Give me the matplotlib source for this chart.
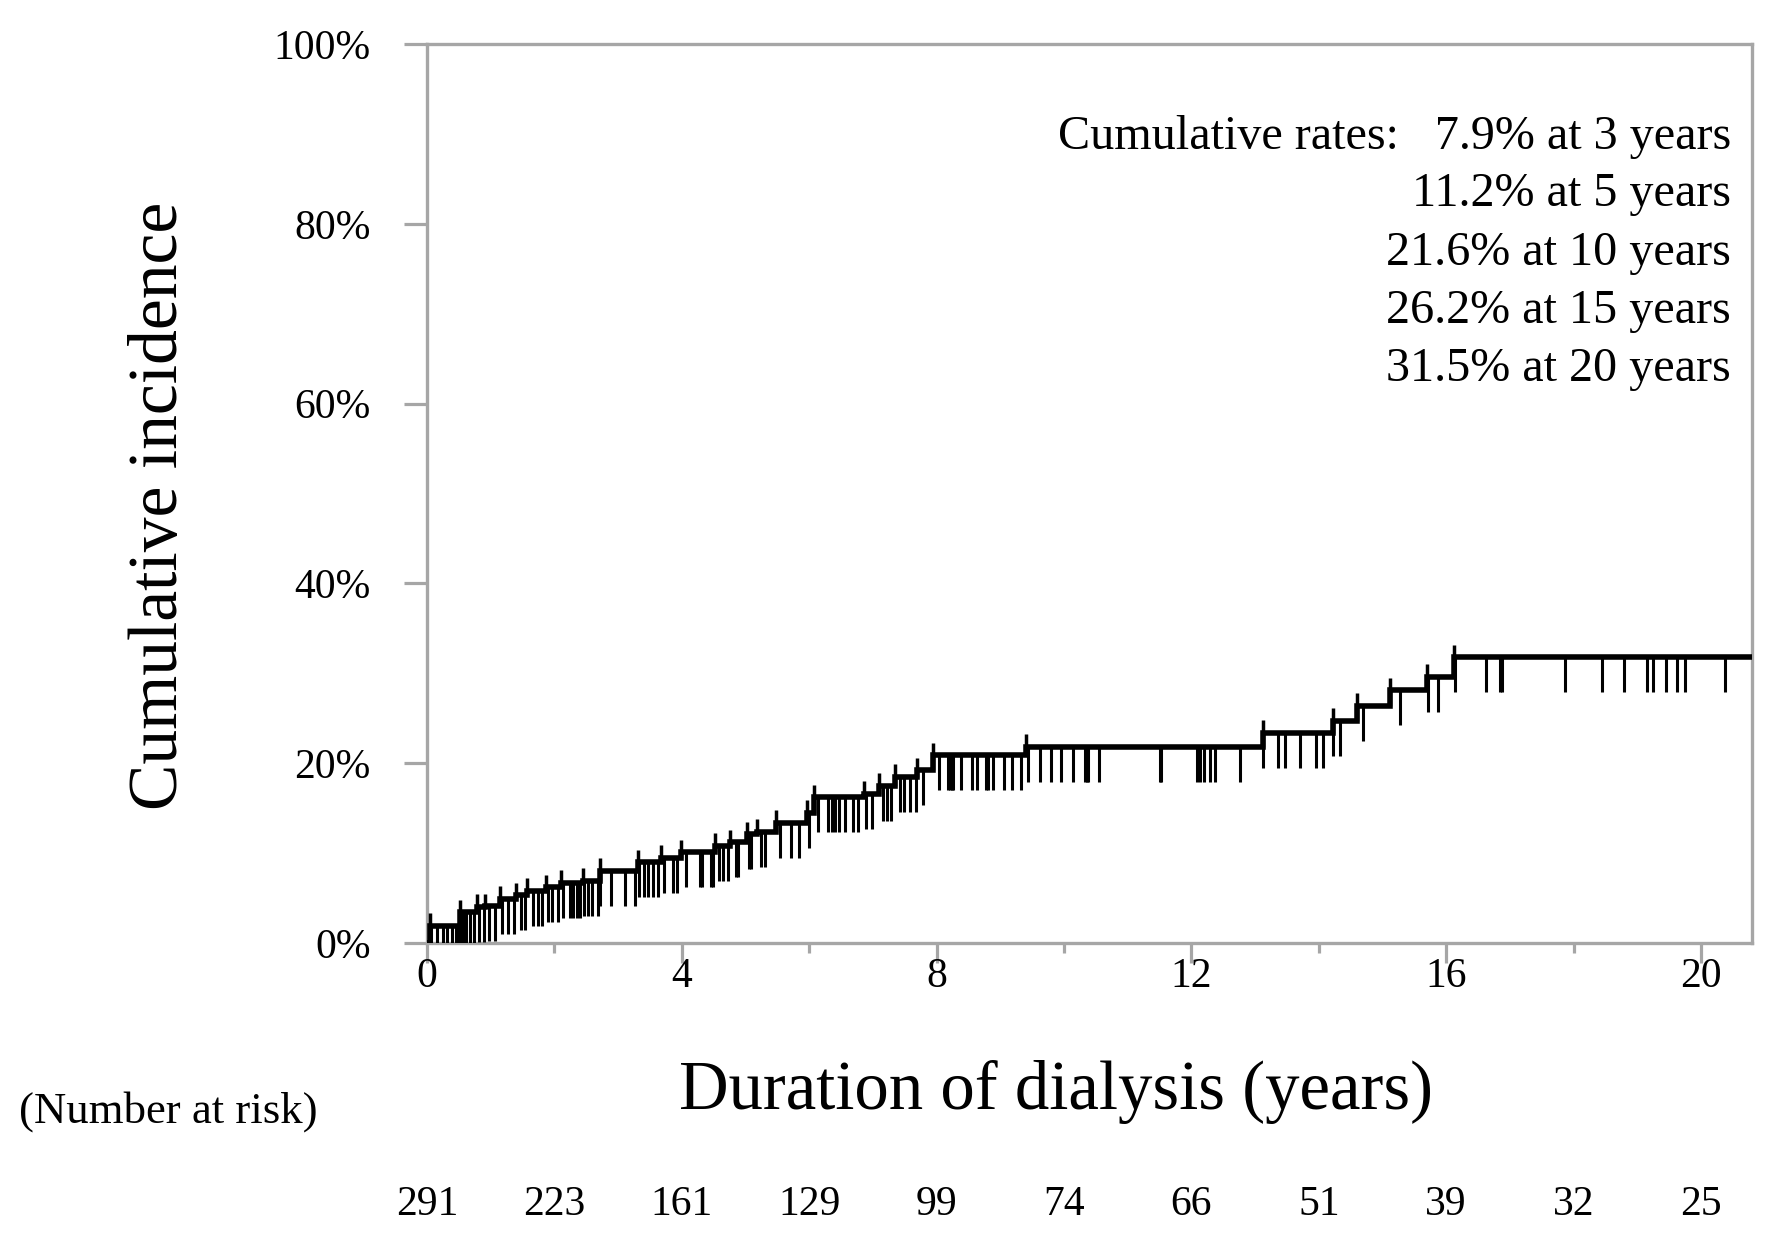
import numpy as np
import matplotlib
matplotlib.use("Agg")
import matplotlib.pyplot as plt
from matplotlib.ticker import FixedLocator, FuncFormatter

plt.rcParams['font.family'] = ['Liberation Serif', 'DejaVu Serif']

# ---- data ----
event_times = [0.04, 0.52, 0.79, 0.91, 1.15, 1.39, 1.57, 1.87, 2.11, 2.45, 2.71, 3.32, 3.68,
               3.98, 4.52, 4.76, 5.03, 5.18, 5.48, 5.96, 6.08, 6.86, 7.10, 7.34, 7.69, 7.94,
               9.40, 13.12, 14.22, 14.60, 15.12, 15.70, 16.12]
event_levels = [1.9, 3.4, 4.0, 4.1, 4.9, 5.3, 5.8, 6.2, 6.7, 6.9, 8.0, 9.0, 9.5,
                10.1, 10.8, 11.2, 12.1, 12.4, 13.4, 14.5, 16.2, 16.6, 17.5, 18.5, 19.2, 20.9,
                21.8, 23.4, 24.7, 26.4, 28.1, 29.6, 31.8]
censor_times = [0.07, 0.16, 0.25, 0.31, 0.39, 0.46, 0.50, 0.53, 0.56, 0.58, 0.61, 0.67, 0.73,
                0.81, 0.89, 0.97, 1.06, 1.18, 1.27, 1.36, 1.48, 1.54, 1.66, 1.75, 1.81, 1.90,
                1.96, 2.05, 2.14, 2.25, 2.29, 2.35, 2.40, 2.47, 2.53, 2.59, 2.68, 2.72, 2.89,
                3.11, 3.26, 3.33, 3.41, 3.47, 3.54, 3.62, 3.72, 3.86, 3.92, 4.07, 4.28, 4.31,
                4.46, 4.49, 4.58, 4.64, 4.73, 4.85, 4.88, 5.06, 5.09, 5.24, 5.30, 5.54, 5.72,
                5.84, 5.99, 6.14, 6.29, 6.35, 6.41, 6.47, 6.56, 6.68, 6.77, 6.89, 6.99, 7.16,
                7.22, 7.28, 7.43, 7.49, 7.58, 7.67, 7.79, 8.04, 8.18, 8.21, 8.24, 8.26, 8.39,
                8.55, 8.64, 8.77, 8.80, 8.88, 9.05, 9.18, 9.32, 9.43, 9.62, 9.80, 9.96, 10.14,
                10.33, 10.36, 10.38, 10.55, 11.51, 11.53, 12.08, 12.14, 12.19, 12.29, 12.37,
                12.76, 13.13, 13.36, 13.47, 13.70, 13.96, 14.06, 14.23, 14.33, 14.69, 15.27,
                15.71, 15.87, 16.13, 16.63, 16.84, 16.87, 17.86, 18.45, 18.79, 19.15, 19.24,
                19.45, 19.62, 19.75, 20.38]
end_time = 20.8
risk_times = [0, 2, 4, 6, 8, 10, 12, 14, 16, 18, 20]
risk_numbers = [291, 223, 161, 129, 99, 74, 66, 51, 39, 32, 25]
rate_lines = ["Cumulative rates:   7.9% at 3 years",
              "11.2% at 5 years",
              "21.6% at 10 years",
              "26.2% at 15 years",
              "31.5% at 20 years"]
x_major = [0, 4, 8, 12, 16, 20]
x_minor = [2, 6, 10, 14, 18]
y_major = [0, 20, 40, 60, 80, 100]

# ---- figure ----
W, H = 1777, 1247
fig = plt.figure(figsize=(W / 100, H / 100), dpi=100)
L, R, B, T = 427, 1752, 943, 44
ax = fig.add_axes([L / W, 1 - B / H, (R - L) / W, (B - T) / H])

gray = '#a6a6a6'
for s in ax.spines.values():
    s.set_color(gray)
    s.set_linewidth(2.4)

# step curve
xs = np.concatenate([[0.0], event_times, [end_time]])
ys = np.concatenate([[0.0], event_levels, [event_levels[-1]]])
ax.step(xs, ys, where='post', color='black', lw=4.0, solid_joinstyle='miter', zorder=3)

# risers overshoot at events
prev = np.concatenate([[0.0], event_levels[:-1]])
ax.vlines(event_times, prev, np.array(event_levels) + 1.4, color='black', lw=2.5, zorder=3)

# censor marks hanging down
ct = np.array(censor_times)
idx = np.searchsorted(np.array(event_times), ct, side='right')
lev = np.concatenate([[0.0], event_levels])[idx]
ax.vlines(ct, np.maximum(lev - 3.9, 0), lev, color='black', lw=2.2, zorder=3)

ax.set_xlim(0, end_time)
ax.set_ylim(0, 100)
ax.xaxis.set_major_locator(FixedLocator(x_major))
ax.xaxis.set_minor_locator(FixedLocator(x_minor))
ax.yaxis.set_major_locator(FixedLocator(y_major))
ax.yaxis.set_major_formatter(FuncFormatter(lambda v, p: f"{int(v)}%"))
ax.tick_params(axis='x', which='major', direction='out', length=14.5, width=2.3,
               color=gray, labelsize=30, pad=-4)
ax.tick_params(axis='x', which='minor', direction='out', length=7.5, width=2.3, color=gray)
ax.tick_params(axis='y', which='major', direction='out', length=16.5, width=2.3,
               color=gray, labelsize=30, pad=24)
for lab in ax.get_yticklabels():
    lab.set_y(lab.get_position()[1])

# annotation lines
base_px = [149, 206, 265, 323, 381]
for txt, py in zip(rate_lines, base_px):
    fig.text(1731 / W, 1 - py / H, txt, ha='right', va='baseline', fontsize=34.7)

# axis labels
fig.text(160 / W, 1 - 506 / H, "Cumulative incidence", rotation=90,
         ha='center', va='center', fontsize=50)
fig.text(1056 / W, 1 - 1092 / H, "Duration of dialysis (years)",
         ha='center', va='center', fontsize=49.5)
fig.text(168 / W, 1 - 1112 / H, "(Number at risk)", ha='center', va='center', fontsize=32.2)

# number at risk
for t, n in zip(risk_times, risk_numbers):
    xf = ax.transData.transform((t, 0))[0]
    fig.text(xf / W, 1 - 1205 / H, str(n), ha='center', va='center', fontsize=30)

fig.savefig("out.png", dpi=100, facecolor='white')
